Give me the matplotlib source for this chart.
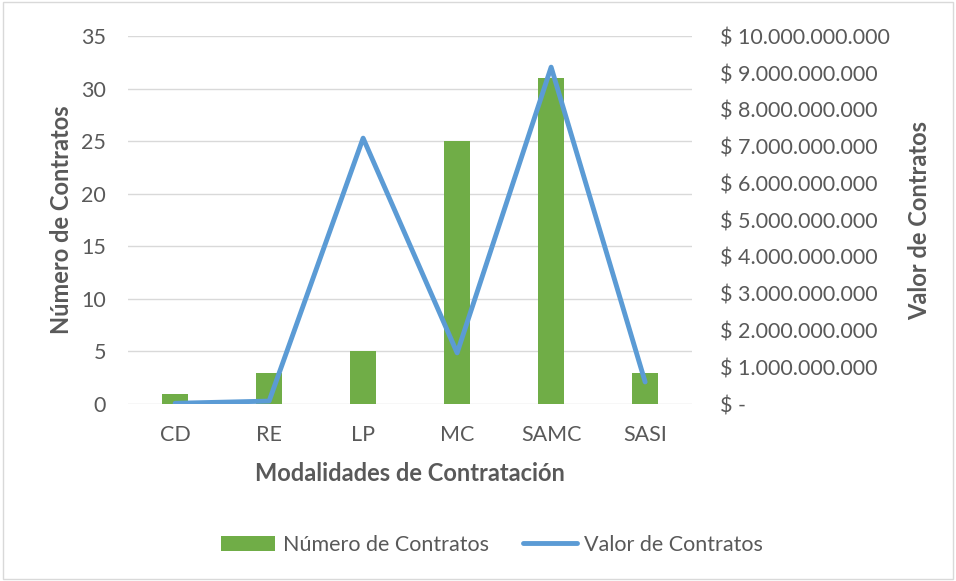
import matplotlib
matplotlib.use('agg')
from matplotlib import pyplot as plt
from matplotlib.ticker import FuncFormatter
from matplotlib.patches import Rectangle
import numpy as np

categorias = ['CD', 'RE', 'LP', 'MC', 'SAMC', 'SASI']
num_contratos = [1, 3, 5, 25, 31, 3]
valor_contratos = [20e6, 80e6, 7.23e9, 1.39e9, 9.16e9, 0.60e9]

GRIS = '#595959'
plt.rcParams['font.family'] = ['Lato', 'DejaVu Sans']


def pesos(v, pos):
	if v == 0:
		return '$ -'
	return '$ ' + '{:,.0f}'.format(v).replace(',', '.')


def main():
	fig = plt.figure(figsize=(9.56, 5.81), dpi=100)
	fig.patches.append(Rectangle((0.003, 0.003), 0.994, 0.994, transform=fig.transFigure,
		fill=False, edgecolor='#d9d9d9', linewidth=1))
	ax = fig.add_axes([0.134, 0.3046, 0.590, 0.633])
	x = np.arange(len(categorias))

	ax.bar(x, num_contratos, width=0.27, color='#70AD47', label='Número de Contratos', zorder=2)
	ax.set_ylim(0, 35)
	ax.set_xlim(-0.5, len(categorias) - 0.5)
	ax.set_yticks(range(0, 36, 5))
	ax.set_xticks(x)
	ax.set_xticklabels(categorias)
	ax.grid(axis='y', color='#d9d9d9', linewidth=1, zorder=0)
	for s in ax.spines.values():
		s.set_visible(False)
	ax.tick_params(length=0, labelsize=15.5, colors=GRIS)
	ax.tick_params(axis='x', pad=15)
	ax.tick_params(axis='y', pad=16)
	ax.set_xlabel('Modalidades de Contratación', fontsize=17, fontweight='bold', color=GRIS, labelpad=12)
	ax.set_ylabel('Número de Contratos', fontsize=17, fontweight='bold', color=GRIS, labelpad=6)

	ax2 = ax.twinx()
	ax2.plot(x, valor_contratos, color='#5B9BD5', linewidth=3.5, solid_capstyle='round',
		label='Valor de Contratos', zorder=3)
	ax2.set_ylim(0, 10e9)
	ax2.set_yticks(np.arange(0, 10.1e9, 1e9))
	ax2.yaxis.set_major_formatter(FuncFormatter(pesos))
	for s in ax2.spines.values():
		s.set_visible(False)
	ax2.tick_params(length=0, labelsize=15.5, colors=GRIS, pad=20)
	ax2.set_ylabel('Valor de Contratos', fontsize=17, fontweight='bold', color=GRIS, labelpad=13)

	h1, l1 = ax.get_legend_handles_labels()
	h2, l2 = ax2.get_legend_handles_labels()
	fig.legend(h1 + h2, l1 + l2, loc='center', bbox_to_anchor=(0.515, 0.062), ncol=2,
		frameon=False, fontsize=15.5, labelcolor=GRIS, handlelength=2.5, handletextpad=0.35,
		columnspacing=1.6)

	fig.savefig('out.png', dpi=100)


main()
